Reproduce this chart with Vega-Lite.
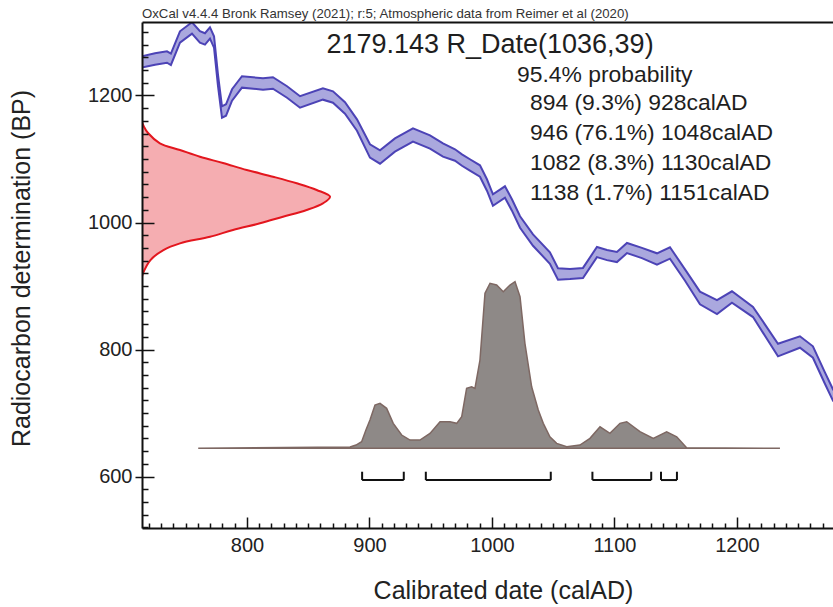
{
  "$schema": "https://vega.github.io/schema/vega-lite/v6.json",
  "width": 691,
  "height": 506,
  "autosize": {"type": "none"},
  "padding": {"left": 142, "top": 22, "right": 0, "bottom": 79},
  "background": "white",
  "config": {"view": {"stroke": null}, "font": "Liberation Sans"},
  "title": {"text": "OxCal v4.4.4 Bronk Ramsey (2021); r:5; Atmospheric data from Reimer et al (2020)", "anchor": "start", "frame": "group", "fontSize": 13.2, "fontWeight": "normal", "color": "#333333", "font": "Liberation Sans", "offset": 1},
  "datasets": {
    "curve": [
      {"yr": 714.0, "lo": 1243.8, "hi": 1261.8},
      {"yr": 724.9, "lo": 1248.5, "hi": 1266.5},
      {"yr": 734.7, "lo": 1251.6, "hi": 1269.6},
      {"yr": 737.9, "lo": 1248.0, "hi": 1266.0},
      {"yr": 745.3, "lo": 1283.1, "hi": 1301.1},
      {"yr": 755.1, "lo": 1297.3, "hi": 1315.3},
      {"yr": 761.6, "lo": 1283.1, "hi": 1301.1},
      {"yr": 765.7, "lo": 1280.0, "hi": 1298.0},
      {"yr": 769.8, "lo": 1289.4, "hi": 1307.4},
      {"yr": 773.1, "lo": 1275.3, "hi": 1293.3},
      {"yr": 776.3, "lo": 1215.4, "hi": 1233.4},
      {"yr": 779.6, "lo": 1165.0, "hi": 1183.0},
      {"yr": 782.9, "lo": 1168.2, "hi": 1186.2},
      {"yr": 787.8, "lo": 1191.8, "hi": 1209.8},
      {"yr": 795.9, "lo": 1212.3, "hi": 1230.3},
      {"yr": 813.1, "lo": 1209.1, "hi": 1227.1},
      {"yr": 821.2, "lo": 1210.7, "hi": 1228.7},
      {"yr": 832.7, "lo": 1196.5, "hi": 1214.5},
      {"yr": 843.3, "lo": 1180.8, "hi": 1198.8},
      {"yr": 862.0, "lo": 1193.4, "hi": 1211.4},
      {"yr": 870.2, "lo": 1188.6, "hi": 1206.6},
      {"yr": 880.0, "lo": 1171.3, "hi": 1189.3},
      {"yr": 889.8, "lo": 1144.5, "hi": 1162.5},
      {"yr": 900.4, "lo": 1102.1, "hi": 1123.1},
      {"yr": 908.6, "lo": 1092.6, "hi": 1113.6},
      {"yr": 920.8, "lo": 1111.5, "hi": 1132.5},
      {"yr": 935.5, "lo": 1127.3, "hi": 1148.3},
      {"yr": 949.4, "lo": 1116.3, "hi": 1137.3},
      {"yr": 960.0, "lo": 1103.7, "hi": 1124.7},
      {"yr": 969.8, "lo": 1097.3, "hi": 1115.3},
      {"yr": 975.5, "lo": 1089.4, "hi": 1107.4},
      {"yr": 982.0, "lo": 1081.6, "hi": 1099.6},
      {"yr": 990.2, "lo": 1072.1, "hi": 1090.1},
      {"yr": 995.9, "lo": 1050.1, "hi": 1068.1},
      {"yr": 1000.8, "lo": 1026.4, "hi": 1044.4},
      {"yr": 1010.6, "lo": 1039.0, "hi": 1057.0},
      {"yr": 1016.3, "lo": 1018.6, "hi": 1036.6},
      {"yr": 1022.9, "lo": 991.8, "hi": 1009.8},
      {"yr": 1033.5, "lo": 963.4, "hi": 981.4},
      {"yr": 1047.3, "lo": 935.1, "hi": 953.1},
      {"yr": 1053.9, "lo": 909.9, "hi": 927.9},
      {"yr": 1063.7, "lo": 910.9, "hi": 926.9},
      {"yr": 1074.3, "lo": 912.5, "hi": 928.5},
      {"yr": 1085.7, "lo": 945.5, "hi": 961.5},
      {"yr": 1093.9, "lo": 940.8, "hi": 956.8},
      {"yr": 1102.0, "lo": 937.7, "hi": 953.7},
      {"yr": 1110.2, "lo": 951.8, "hi": 967.8},
      {"yr": 1122.4, "lo": 944.0, "hi": 960.0},
      {"yr": 1134.7, "lo": 933.5, "hi": 951.5},
      {"yr": 1145.3, "lo": 943.0, "hi": 961.0},
      {"yr": 1157.6, "lo": 908.3, "hi": 926.3},
      {"yr": 1169.8, "lo": 871.1, "hi": 891.1},
      {"yr": 1183.7, "lo": 855.9, "hi": 877.9},
      {"yr": 1195.9, "lo": 873.7, "hi": 891.7},
      {"yr": 1213.1, "lo": 851.1, "hi": 867.1},
      {"yr": 1233.5, "lo": 789.2, "hi": 809.2},
      {"yr": 1251.4, "lo": 802.8, "hi": 820.8},
      {"yr": 1262.0, "lo": 787.1, "hi": 805.1},
      {"yr": 1271.8, "lo": 746.1, "hi": 764.1},
      {"yr": 1278.4, "lo": 719.3, "hi": 737.3},
      {"yr": 1282.0, "lo": 711.0, "hi": 729.0}
    ],
    "prior": [
      {"bp": 915.0, "yr": 714.3},
      {"bp": 920.0, "yr": 715.1},
      {"bp": 940.9, "yr": 721.2},
      {"bp": 956.7, "yr": 731.8},
      {"bp": 967.2, "yr": 745.3},
      {"bp": 977.6, "yr": 769.8},
      {"bp": 988.2, "yr": 788.6},
      {"bp": 998.7, "yr": 810.6},
      {"bp": 1009.1, "yr": 829.4},
      {"bp": 1019.7, "yr": 848.7},
      {"bp": 1030.2, "yr": 862.0},
      {"bp": 1040.6, "yr": 867.8},
      {"bp": 1051.2, "yr": 856.9},
      {"bp": 1061.7, "yr": 840.6},
      {"bp": 1072.1, "yr": 821.2},
      {"bp": 1082.7, "yr": 799.8},
      {"bp": 1093.7, "yr": 780.4},
      {"bp": 1103.6, "yr": 761.6},
      {"bp": 1114.2, "yr": 745.3},
      {"bp": 1124.7, "yr": 728.9},
      {"bp": 1140.5, "yr": 719.4},
      {"bp": 1150.9, "yr": 715.9},
      {"bp": 1158.7, "yr": 714.3}
    ],
    "post": [
      {"yr": 760.2, "bp": 644.5},
      {"yr": 884.1, "bp": 646.5},
      {"yr": 889.0, "bp": 649.6},
      {"yr": 893.6, "bp": 654.8},
      {"yr": 897.1, "bp": 673.2},
      {"yr": 900.4, "bp": 689.0},
      {"yr": 904.5, "bp": 712.6},
      {"yr": 908.6, "bp": 715.3},
      {"yr": 914.0, "bp": 707.4},
      {"yr": 919.4, "bp": 683.8},
      {"yr": 926.3, "bp": 665.4},
      {"yr": 933.1, "bp": 657.5},
      {"yr": 941.2, "bp": 657.5},
      {"yr": 949.4, "bp": 668.0},
      {"yr": 957.6, "bp": 686.3},
      {"yr": 965.7, "bp": 686.3},
      {"yr": 971.2, "bp": 683.8},
      {"yr": 975.3, "bp": 694.2},
      {"yr": 979.3, "bp": 738.9},
      {"yr": 983.4, "bp": 741.4},
      {"yr": 986.1, "bp": 738.9},
      {"yr": 990.2, "bp": 783.5},
      {"yr": 994.3, "bp": 888.5},
      {"yr": 998.4, "bp": 904.3},
      {"yr": 1003.8, "bp": 901.6},
      {"yr": 1009.2, "bp": 891.0},
      {"yr": 1014.7, "bp": 901.6},
      {"yr": 1018.8, "bp": 906.8},
      {"yr": 1022.9, "bp": 883.1},
      {"yr": 1026.9, "bp": 809.8},
      {"yr": 1032.4, "bp": 741.4},
      {"yr": 1037.8, "bp": 704.7},
      {"yr": 1041.9, "bp": 683.8},
      {"yr": 1047.3, "bp": 662.7},
      {"yr": 1052.8, "bp": 652.3},
      {"yr": 1061.0, "bp": 646.9},
      {"yr": 1071.8, "bp": 649.6},
      {"yr": 1080.0, "bp": 660.2},
      {"yr": 1088.2, "bp": 678.4},
      {"yr": 1096.3, "bp": 668.0},
      {"yr": 1104.5, "bp": 683.8},
      {"yr": 1110.0, "bp": 686.3},
      {"yr": 1120.8, "bp": 670.6},
      {"yr": 1131.7, "bp": 660.2},
      {"yr": 1142.6, "bp": 670.6},
      {"yr": 1150.8, "bp": 662.7},
      {"yr": 1158.9, "bp": 645.4},
      {"yr": 1235.1, "bp": 644.5}
    ],
    "ranges": [
      {"from": 894, "to": 928, "label": "894 (9.3%) 928calAD", "row": 1188.2},
      {"from": 946, "to": 1048, "label": "946 (76.1%) 1048calAD", "row": 1141.0},
      {"from": 1082, "to": 1130, "label": "1082 (8.3%) 1130calAD", "row": 1093.7},
      {"from": 1138, "to": 1151, "label": "1138 (1.7%) 1151calAD", "row": 1046.5}
    ]
  },
  "resolve": {"axis": {"x": "independent", "y": "independent"}},
  "layer": [
    {
      "data": {"name": "curve"},
      "mark": {"type": "area", "fill": "#aaa8de", "clip": true},
      "encoding": {
        "x": {"field": "yr", "type": "quantitative", "scale": {"domain": [714.3, 1278.4], "nice": false, "zero": false},
          "axis": {"orient": "bottom", "values": [800, 900, 1000, 1100, 1200], "format": "d", "ticks": false, "grid": false, "domainColor": "#111111", "domainWidth": 2, "labelFontSize": 20, "labelColor": "#222222", "labelPadding": 7, "labelFlush": false, "title": "Calibrated date (calAD)", "titleFontSize": 25, "titleFontWeight": "normal", "titleColor": "#222222", "titlePadding": 23, "titleX": 361, "zindex": 1}},
        "y": {"field": "lo", "type": "quantitative", "scale": {"domain": [519, 1315.7], "nice": false, "zero": false},
          "axis": {"orient": "left", "values": [600, 800, 1000, 1200], "format": "d", "tickSize": 7, "tickColor": "#111111", "tickWidth": 1.5, "grid": false, "domainColor": "#111111", "domainWidth": 2, "labelFontSize": 20, "labelColor": "#222222", "labelPadding": 3, "title": "Radiocarbon determination (BP)", "titleFontSize": 25, "titleFontWeight": "normal", "titleColor": "#222222", "titlePadding": 53, "titleY": 246, "zindex": 1}},
        "y2": {"field": "hi"}
      }
    },
    {
      "data": {"name": "curve"},
      "mark": {"type": "line", "stroke": "#4c43b6", "strokeWidth": 2, "clip": true},
      "encoding": {
        "x": {"field": "yr", "type": "quantitative", "scale": {"domain": [714.3, 1278.4], "nice": false, "zero": false},
          "axis": {"orient": "bottom", "values": [720, 730, 740, 750, 760, 770, 780, 790, 800, 810, 820, 830, 840, 850, 860, 870, 880, 890, 900, 910, 920, 930, 940, 950, 960, 970, 980, 990, 1000, 1010, 1020, 1030, 1040, 1050, 1060, 1070, 1080, 1090, 1100, 1110, 1120, 1130, 1140, 1150, 1160, 1170, 1180, 1190, 1200, 1210, 1220, 1230, 1240, 1250, 1260, 1270], "labels": false, "domain": false, "grid": false, "tickColor": "#111111", "tickWidth": 1.5, "tickSize": {"condition": {"test": "datum.value % 100 === 0", "value": -11}, "value": -5}, "title": null, "zindex": 1}},
        "y": {"field": "hi", "type": "quantitative", "scale": {"domain": [519, 1315.7], "nice": false, "zero": false},
          "axis": {"orient": "left", "values": [520, 540, 560, 580, 600, 620, 640, 660, 680, 700, 720, 740, 760, 780, 800, 820, 840, 860, 880, 900, 920, 940, 960, 980, 1000, 1020, 1040, 1060, 1080, 1100, 1120, 1140, 1160, 1180, 1200, 1220, 1240, 1260, 1280, 1300], "labels": false, "domain": false, "grid": false, "tickColor": "#111111", "tickWidth": 1.5, "tickSize": {"condition": {"test": "datum.value % 200 === 0", "value": -12}, "value": -6}, "title": null, "zindex": 1}}
      }
    },
    {
      "data": {"name": "curve"},
      "mark": {"type": "line", "stroke": "#4c43b6", "strokeWidth": 2, "clip": true},
      "encoding": {
        "x": {"field": "yr", "type": "quantitative", "scale": {"domain": [714.3, 1278.4], "nice": false, "zero": false},
          "axis": {"orient": "top", "labels": false, "ticks": false, "grid": false, "domainColor": "#111111", "domainWidth": 2, "title": null, "zindex": 1}},
        "y": {"field": "lo", "type": "quantitative", "scale": {"domain": [519, 1315.7], "nice": false, "zero": false}, "axis": null}
      }
    },
    {
      "data": {"name": "prior"},
      "mark": {"type": "area", "orient": "horizontal", "fill": "#f5adb1", "interpolate": "catmull-rom", "clip": true},
      "encoding": {
        "x": {"field": "yr", "type": "quantitative", "scale": {"domain": [714.3, 1278.4], "nice": false, "zero": false}, "axis": null},
        "x2": {"datum": 714.3},
        "y": {"field": "bp", "type": "quantitative", "scale": {"domain": [519, 1315.7], "nice": false, "zero": false}, "axis": null}
      }
    },
    {
      "data": {"name": "prior"},
      "mark": {"type": "line", "stroke": "#e3161e", "strokeWidth": 2, "interpolate": "catmull-rom", "clip": true},
      "encoding": {
        "x": {"field": "yr", "type": "quantitative", "scale": {"domain": [714.3, 1278.4], "nice": false, "zero": false}, "axis": null},
        "y": {"field": "bp", "type": "quantitative", "scale": {"domain": [519, 1315.7], "nice": false, "zero": false}, "axis": null},
        "order": {"field": "bp"}
      }
    },
    {
      "data": {"name": "post"},
      "mark": {"type": "area", "fill": "#8e8987", "stroke": "#7e6863", "strokeWidth": 1.5, "clip": true},
      "encoding": {
        "x": {"field": "yr", "type": "quantitative", "scale": {"domain": [714.3, 1278.4], "nice": false, "zero": false}, "axis": null},
        "y": {"field": "bp", "type": "quantitative", "scale": {"domain": [519, 1315.7], "nice": false, "zero": false}, "axis": null},
        "y2": {"datum": 644.5}
      }
    },
    {
      "data": {"name": "ranges"},
      "mark": {"type": "rule", "stroke": "#111111", "strokeWidth": 2},
      "encoding": {
        "x": {"field": "from", "type": "quantitative", "scale": {"domain": [714.3, 1278.4], "nice": false, "zero": false}, "axis": null},
        "x2": {"field": "to"},
        "y": {"datum": 594.5, "type": "quantitative", "scale": {"domain": [519, 1315.7], "nice": false, "zero": false}, "axis": null}
      }
    },
    {
      "data": {"name": "ranges"},
      "mark": {"type": "rule", "stroke": "#111111", "strokeWidth": 2},
      "encoding": {
        "x": {"field": "from", "type": "quantitative", "scale": {"domain": [714.3, 1278.4], "nice": false, "zero": false}, "axis": null},
        "y": {"datum": 594.5, "type": "quantitative", "scale": {"domain": [519, 1315.7], "nice": false, "zero": false}, "axis": null},
        "y2": {"datum": 607.6}
      }
    },
    {
      "data": {"name": "ranges"},
      "mark": {"type": "rule", "stroke": "#111111", "strokeWidth": 2},
      "encoding": {
        "x": {"field": "to", "type": "quantitative", "scale": {"domain": [714.3, 1278.4], "nice": false, "zero": false}, "axis": null},
        "y": {"datum": 594.5, "type": "quantitative", "scale": {"domain": [519, 1315.7], "nice": false, "zero": false}, "axis": null},
        "y2": {"datum": 607.6}
      }
    },
    {
      "data": {"name": "ranges"},
      "mark": {"type": "text", "align": "left", "baseline": "middle", "fontSize": 22.9, "color": "#1e1e1e", "font": "Liberation Sans"},
      "encoding": {
        "x": {"datum": 1031, "type": "quantitative", "scale": {"domain": [714.3, 1278.4], "nice": false, "zero": false}, "axis": null},
        "y": {"field": "row", "type": "quantitative", "scale": {"domain": [519, 1315.7], "nice": false, "zero": false}, "axis": null},
        "text": {"field": "label"}
      }
    },
    {
      "data": {"values": [{"yr": 998.4, "bp": 1279.5, "t": "2179.143 R_Date(1036,39)"}]},
      "mark": {"type": "text", "align": "center", "baseline": "middle", "fontSize": 27, "color": "#1e1e1e", "font": "Liberation Sans"},
      "encoding": {
        "x": {"field": "yr", "type": "quantitative", "scale": {"domain": [714.3, 1278.4], "nice": false, "zero": false}, "axis": null},
        "y": {"field": "bp", "type": "quantitative", "scale": {"domain": [519, 1315.7], "nice": false, "zero": false}, "axis": null},
        "text": {"field": "t"}
      }
    },
    {
      "data": {"values": [{"yr": 1020.4, "bp": 1232.3, "t": "95.4% probability"}]},
      "mark": {"type": "text", "align": "left", "baseline": "middle", "fontSize": 22.9, "color": "#1e1e1e", "font": "Liberation Sans"},
      "encoding": {
        "x": {"field": "yr", "type": "quantitative", "scale": {"domain": [714.3, 1278.4], "nice": false, "zero": false}, "axis": null},
        "y": {"field": "bp", "type": "quantitative", "scale": {"domain": [519, 1315.7], "nice": false, "zero": false}, "axis": null},
        "text": {"field": "t"}
      }
    }
  ]
}
